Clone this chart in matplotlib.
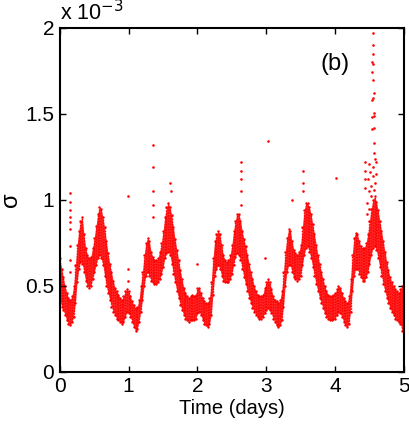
import numpy as np
import matplotlib
matplotlib.use("Agg")
import matplotlib.pyplot as plt

plt.rcParams['font.family'] = ['Liberation Sans', 'DejaVu Sans']

# time grid (days), sampled every 0.025 day
time_days = np.round(np.arange(201) * 0.025, 3)

# lower / upper edge of the dense scatter band (units of 1e-3)
sigma_low = [
    0.42, 0.38, 0.36, 0.33, 0.30, 0.28, 0.27, 0.29, 0.32, 0.40,
    0.52, 0.60, 0.64, 0.63, 0.58, 0.53, 0.50, 0.49, 0.50, 0.54,
    0.58, 0.62, 0.66, 0.68, 0.66, 0.62, 0.56, 0.50, 0.46, 0.42,
    0.38, 0.35, 0.33, 0.31, 0.30, 0.29, 0.28, 0.29, 0.32, 0.35,
    0.34, 0.32, 0.29, 0.26, 0.24, 0.25, 0.29, 0.35, 0.42, 0.50,
    0.56, 0.58, 0.56, 0.53, 0.52, 0.51, 0.51, 0.52, 0.54, 0.57,
    0.61, 0.66, 0.69, 0.70, 0.68, 0.63, 0.57, 0.52, 0.47, 0.43,
    0.39, 0.36, 0.33, 0.31, 0.30, 0.29, 0.30, 0.30, 0.30, 0.31,
    0.34, 0.35, 0.33, 0.30, 0.28, 0.27, 0.26, 0.28, 0.33, 0.45,
    0.56, 0.60, 0.62, 0.60, 0.56, 0.53, 0.52, 0.52, 0.52, 0.54,
    0.57, 0.62, 0.67, 0.69, 0.68, 0.65, 0.60, 0.55, 0.51, 0.47,
    0.43, 0.40, 0.37, 0.35, 0.33, 0.32, 0.31, 0.31, 0.32, 0.34,
    0.36, 0.37, 0.36, 0.34, 0.31, 0.29, 0.27, 0.26, 0.27, 0.30,
    0.38, 0.50, 0.58, 0.62, 0.62, 0.58, 0.55, 0.54, 0.53, 0.54,
    0.56, 0.62, 0.68, 0.72, 0.73, 0.70, 0.66, 0.61, 0.56, 0.51,
    0.47, 0.43, 0.40, 0.37, 0.34, 0.32, 0.31, 0.30, 0.30, 0.31,
    0.31, 0.33, 0.35, 0.34, 0.32, 0.29, 0.27, 0.26, 0.28, 0.35,
    0.47, 0.56, 0.60, 0.60, 0.57, 0.55, 0.53, 0.53, 0.55, 0.58,
    0.63, 0.68, 0.72, 0.73, 0.71, 0.66, 0.61, 0.56, 0.51, 0.47,
    0.43, 0.40, 0.37, 0.35, 0.33, 0.31, 0.30, 0.29, 0.28, 0.24,
    0.19,
]
sigma_high = [
    0.66, 0.60, 0.55, 0.50, 0.46, 0.43, 0.42, 0.44, 0.50, 0.62,
    0.74, 0.82, 0.88, 0.90, 0.80, 0.72, 0.68, 0.66, 0.67, 0.72,
    0.78, 0.85, 0.92, 0.96, 0.95, 0.90, 0.84, 0.76, 0.69, 0.63,
    0.58, 0.53, 0.49, 0.47, 0.45, 0.43, 0.42, 0.44, 0.47, 0.48,
    0.47, 0.44, 0.41, 0.39, 0.37, 0.38, 0.42, 0.50, 0.58, 0.68,
    0.75, 0.78, 0.76, 0.70, 0.67, 0.65, 0.65, 0.66, 0.70, 0.75,
    0.82, 0.90, 0.96, 0.98, 0.96, 0.91, 0.84, 0.77, 0.71, 0.65,
    0.59, 0.54, 0.49, 0.46, 0.44, 0.43, 0.44, 0.45, 0.44, 0.45,
    0.49, 0.49, 0.46, 0.43, 0.41, 0.40, 0.40, 0.43, 0.52, 0.66,
    0.76, 0.80, 0.82, 0.80, 0.74, 0.68, 0.65, 0.64, 0.65, 0.68,
    0.74, 0.82, 0.88, 0.92, 0.92, 0.88, 0.82, 0.77, 0.73, 0.68,
    0.63, 0.58, 0.54, 0.50, 0.47, 0.45, 0.44, 0.44, 0.45, 0.49,
    0.52, 0.54, 0.52, 0.48, 0.44, 0.42, 0.41, 0.40, 0.42, 0.47,
    0.58, 0.70, 0.78, 0.83, 0.82, 0.76, 0.71, 0.69, 0.68, 0.70,
    0.74, 0.84, 0.94, 0.98, 0.98, 0.96, 0.92, 0.86, 0.80, 0.74,
    0.68, 0.63, 0.58, 0.54, 0.50, 0.47, 0.45, 0.44, 0.44, 0.45,
    0.46, 0.48, 0.50, 0.49, 0.46, 0.43, 0.41, 0.40, 0.44, 0.54,
    0.68, 0.78, 0.81, 0.80, 0.76, 0.73, 0.72, 0.72, 0.75, 0.80,
    0.88, 0.95, 1.00, 1.02, 0.99, 0.94, 0.88, 0.82, 0.76, 0.70,
    0.64, 0.59, 0.55, 0.52, 0.50, 0.48, 0.47, 0.46, 0.48, 0.50,
    0.52,
]

# sparse isolated points above the band (time in days, sigma in 1e-3)
outlier_t = [
    0.145, 0.145, 0.145, 0.145, 0.147, 0.147, 0.147, 0.145, 0.147,
    0.99, 0.99, 0.99,
    1.35, 1.35, 1.35, 1.35, 1.35, 1.60, 1.62,
    2.00,
    2.63, 2.63, 2.63, 2.63, 2.63,
    2.98, 3.02, 3.37,
    3.54, 3.54, 3.54,
    4.02,
    4.43, 4.43, 4.44, 4.43,
    4.55, 4.55, 4.55, 4.53, 4.55, 4.53, 4.55, 4.57, 4.55, 4.53,
    4.56, 4.54, 4.57, 4.53, 4.57, 4.57, 4.57, 4.58, 4.50, 4.55,
    4.59, 4.51, 4.55, 4.48, 4.60, 4.52, 4.58, 4.49, 4.56, 4.47,
    4.50, 4.46, 4.52,
]
outlier_v = [
    1.04, 0.99, 0.94, 0.90, 0.87, 0.83, 0.73, 0.65, 0.58,
    1.02, 0.60, 0.53,
    1.32, 1.19, 1.05, 0.97, 0.90, 1.10, 1.05,
    0.63,
    1.22, 1.17, 1.12, 1.05, 0.97,
    0.66, 1.345, 1.00,
    1.17, 1.10, 1.05,
    1.13,
    1.22, 1.17, 1.12, 1.07,
    1.97, 1.90, 1.85, 1.80, 1.79, 1.745, 1.70, 1.62, 1.59, 1.58,
    1.505, 1.48, 1.49, 1.41, 1.42, 1.33, 1.27, 1.24, 1.21, 1.19,
    1.22, 1.16, 1.14, 1.12, 1.15, 1.08, 1.10, 1.05, 1.06, 0.98,
    0.95, 0.92, 1.02,
]

x_ticks = [0, 1, 2, 3, 4, 5]
y_ticks = [0, 0.5, 1, 1.5, 2]
y_tick_labels = ['0', '0.5', '1', '1.5', '2']

fig = plt.figure(figsize=(4.10, 4.37), dpi=100)
ax = fig.add_axes([0.146, 0.149, 0.839, 0.787])

red = '#ff0000'
ax.fill_between(time_days, sigma_low, sigma_high, color=red,
                linewidth=0, alpha=0.85)
ax.vlines(time_days, sigma_low, sigma_high, colors=red,
          linewidth=1.0, linestyles=(0, (1.0, 1.0)))
ax.scatter(time_days, sigma_low, s=3, color=red, linewidths=0)
ax.scatter(time_days, sigma_high, s=3, color=red, linewidths=0)
ax.scatter(outlier_t, outlier_v, s=3.5, color=red, linewidths=0)

ax.set_xlim(0, 5)
ax.set_ylim(0, 2)
ax.set_xticks(x_ticks)
ax.set_yticks(y_ticks)
ax.set_yticklabels(y_tick_labels)
ax.tick_params(direction='in', length=4, width=1, top=True, right=True,
               labelsize=15, pad=4, color='black')
for sp in ax.spines.values():
    sp.set_linewidth(1.5)

ax.set_xlabel('Time (days)', fontsize=14.5, labelpad=2)
ax.set_ylabel('σ', fontsize=17, labelpad=2)
ax.text(0.0, 1.008, r'x 10$^{-3}$', transform=ax.transAxes, fontsize=15.5,
        ha='left', va='bottom')
ax.text(0.80, 0.895, '(b)', transform=ax.transAxes, fontsize=17,
        ha='center', va='center')

fig.savefig('out.png', dpi=100)
